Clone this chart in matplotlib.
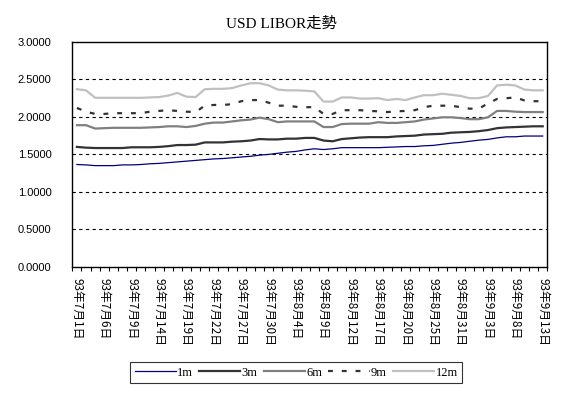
# -*- coding: utf-8 -*-
# USD LIBOR走勢 (93年7月～9月)

import numpy
import matplotlib
matplotlib.use('Agg')
import matplotlib.pyplot as plt

# 日期 (營業日)
dates = ['93年7月1日', '93年7月2日', '93年7月5日', '93年7月6日', '93年7月7日', '93年7月8日',
         '93年7月9日', '93年7月12日', '93年7月13日', '93年7月14日', '93年7月15日', '93年7月16日',
         '93年7月19日', '93年7月20日', '93年7月21日', '93年7月22日', '93年7月23日', '93年7月26日',
         '93年7月27日', '93年7月28日', '93年7月29日', '93年7月30日', '93年8月2日', '93年8月3日',
         '93年8月4日', '93年8月5日', '93年8月6日', '93年8月9日', '93年8月10日', '93年8月11日',
         '93年8月12日', '93年8月13日', '93年8月16日', '93年8月17日', '93年8月18日', '93年8月19日',
         '93年8月20日', '93年8月23日', '93年8月24日', '93年8月25日', '93年8月26日', '93年8月27日',
         '93年8月31日', '93年9月1日', '93年9月2日', '93年9月3日', '93年9月6日', '93年9月7日',
         '93年9月8日', '93年9月9日', '93年9月10日', '93年9月13日']

# 各期別利率
libor_1m = [1.365, 1.36, 1.35, 1.35, 1.35, 1.36, 1.36, 1.365, 1.375, 1.38, 1.39, 1.40, 1.41,
            1.42, 1.43, 1.44, 1.445, 1.455, 1.465, 1.475, 1.49, 1.50, 1.515, 1.53, 1.54, 1.56,
            1.575, 1.565, 1.575, 1.59, 1.59, 1.59, 1.59, 1.59, 1.595, 1.60, 1.605, 1.605, 1.615,
            1.62, 1.635, 1.65, 1.66, 1.675, 1.69, 1.70, 1.72, 1.735, 1.735, 1.745, 1.745, 1.745]
libor_3m = [1.60, 1.59, 1.585, 1.585, 1.585, 1.585, 1.595, 1.595, 1.595, 1.60, 1.61, 1.625, 1.625,
            1.63, 1.66, 1.66, 1.66, 1.67, 1.675, 1.685, 1.705, 1.70, 1.70, 1.71, 1.71, 1.72,
            1.72, 1.685, 1.675, 1.705, 1.715, 1.725, 1.73, 1.73, 1.73, 1.74, 1.745, 1.75, 1.765,
            1.77, 1.775, 1.79, 1.795, 1.80, 1.81, 1.825, 1.85, 1.86, 1.865, 1.87, 1.875, 1.875]
libor_6m = [1.89, 1.89, 1.845, 1.85, 1.855, 1.855, 1.855, 1.855, 1.86, 1.865, 1.875, 1.875, 1.865,
            1.88, 1.91, 1.925, 1.925, 1.94, 1.955, 1.965, 1.99, 1.97, 1.93, 1.94, 1.94, 1.94,
            1.94, 1.865, 1.865, 1.905, 1.91, 1.91, 1.91, 1.93, 1.92, 1.92, 1.93, 1.94, 1.965,
            1.98, 1.995, 1.995, 1.985, 1.97, 1.97, 1.995, 2.08, 2.08, 2.07, 2.065, 2.065, 2.065]
libor_9m = [2.12, 2.07, 2.04, 2.04, 2.05, 2.05, 2.05, 2.05, 2.07, 2.08, 2.09, 2.08, 2.07,
            2.065, 2.15, 2.16, 2.16, 2.17, 2.21, 2.225, 2.225, 2.19, 2.15, 2.15, 2.135, 2.13,
            2.13, 2.04, 2.04, 2.09, 2.09, 2.09, 2.08, 2.075, 2.065, 2.075, 2.08, 2.09, 2.13,
            2.15, 2.15, 2.15, 2.13, 2.11, 2.11, 2.18, 2.24, 2.25, 2.26, 2.22, 2.21, 2.21]
libor_12m = [2.37, 2.355, 2.255, 2.255, 2.255, 2.255, 2.255, 2.255, 2.26, 2.265, 2.285, 2.32, 2.27,
             2.265, 2.37, 2.375, 2.375, 2.385, 2.42, 2.45, 2.45, 2.42, 2.365, 2.355, 2.355, 2.35,
             2.34, 2.205, 2.205, 2.26, 2.26, 2.245, 2.245, 2.25, 2.225, 2.24, 2.225, 2.26, 2.29,
             2.29, 2.31, 2.295, 2.28, 2.25, 2.25, 2.28, 2.42, 2.43, 2.42, 2.365, 2.355, 2.355]

series_names = ['1m', '3m', '6m', '9m', '12m']
y_ticks = [0.0, 0.5, 1.0, 1.5, 2.0, 2.5, 3.0]

# 線的樣式
styles = [
    dict(color='#000080', lw=0.9, ls='-'),
    dict(color='#333333', lw=1.6, ls='-'),
    dict(color='#808080', lw=1.6, ls='-'),
    dict(color='#333333', lw=1.6, ls=(0, (2.2, 4.0))),
    dict(color='#c0c0c0', lw=1.6, ls='-'),
]

cjk = ['Noto Sans CJK TC', 'DejaVu Sans']
serif = ['Liberation Serif', 'Noto Sans CJK TC', 'DejaVu Sans']

fig = plt.figure(figsize=(5.62, 3.98), dpi=100)
ax = fig.add_axes([0.1287, 0.3296, 0.8451, 0.5649])

x_data = numpy.arange(len(dates))
data = [libor_1m, libor_3m, libor_6m, libor_9m, libor_12m]
for i in range(len(data)):
    ax.plot(x_data, data[i], label=series_names[i], color=styles[i]['color'],
            linewidth=styles[i]['lw'], linestyle=styles[i]['ls'])

ax.set_xlim(-0.5, len(dates) - 0.5)
ax.set_ylim(0, 3)

# 水平格線 (黑色虛線)
for v in y_ticks[1:-1]:
    ax.axhline(v, color='black', linewidth=0.8, linestyle=(0, (3, 3)), zorder=0)

ax.set_yticks(y_ticks)
ax.set_yticklabels(['%.4f' % v for v in y_ticks], family=['Liberation Sans'], fontsize=8)
ax.tick_params(axis='y', length=0, pad=15)

# x軸: 每3個營業日顯示一次
label_idx = list(range(0, len(dates), 3))
ax.set_xticks(label_idx)
ax.set_xticklabels([dates[i] for i in label_idx], rotation=270, family=cjk, fontsize=8.5,
                   va='top', ha='center')
ax.tick_params(axis='x', which='major', length=0, pad=8)
ax.set_xticks(numpy.arange(-0.5, len(dates), 1.0), minor=True)
ax.tick_params(axis='x', which='minor', length=3, width=0.8, direction='out')

for sp in ax.spines.values():
    sp.set_linewidth(1.0)
    sp.set_color('black')

fig.text(0.5, 0.94, 'USD LIBOR走勢', ha='center', va='center', family=serif, fontsize=11)

leg = fig.legend(loc='center', bbox_to_anchor=(0.527, 0.064), ncol=5, frameon=True,
                 fancybox=False, edgecolor='black', handlelength=3.3, handletextpad=0.1,
                 columnspacing=0.5, borderpad=0.35, prop={'family': serif, 'size': 9})
leg.get_frame().set_linewidth(0.8)

plt.savefig('out.png', dpi=100)
